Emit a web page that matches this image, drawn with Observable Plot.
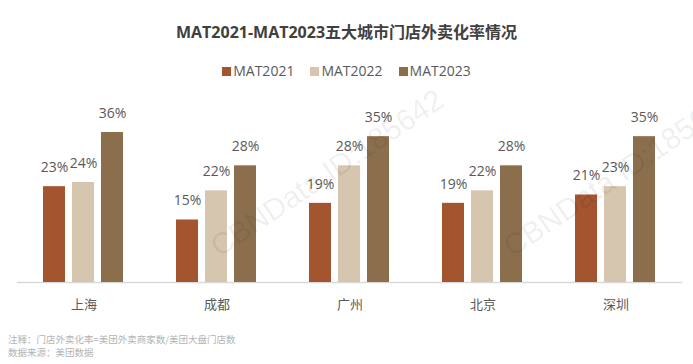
<!DOCTYPE html>
<html>
<head>
<meta charset="utf-8">
<script src="https://cdn.jsdelivr.net/npm/d3@7"></script>
<script src="https://cdn.jsdelivr.net/npm/@observablehq/plot@0.6"></script>
<style>
  html, body { margin: 0; padding: 0; background: #fff; }
  #wrap { position: relative; width: 693px; height: 364px; overflow: hidden; font-family: "Open Sans", "Noto Sans CJK SC", sans-serif; }
  #title { position: absolute; left: 0; width: 693px; top: 22px; line-height: 20px; text-align: center; font-size: 16px; font-weight: bold; color: #404040; font-family: "Open Sans", "Noto Sans CJK SC", sans-serif; }
  #legend { position: absolute; left: 0; width: 693px; top: 62px; line-height: 18px; text-align: center; font-size: 14px; color: #595959; }
  #legend span.item { display: inline-block; margin: 0 8px; }
  #legend span.sw { display: inline-block; width: 9px; height: 9px; margin-right: 2px; vertical-align: 0px; }
  #chart { position: absolute; left: 0; top: 95px; }
  #notes { position: absolute; left: 8px; top: 333px; font-size: 9.5px; line-height: 13px; color: #b3b3b3; font-family: "Noto Sans CJK SC", sans-serif; }
  .wm { position: absolute; font-family: "Liberation Sans", Arial, sans-serif; font-size: 30px; color: rgba(0,0,0,0.07); white-space: nowrap; transform-origin: 0 100%; transform: rotate(-34deg); line-height: 30px; }
</style>
</head>
<body>
<div id="wrap">
  <div id="title"></div>
  <div id="legend"></div>
  <div id="chart"></div>
  <div id="notes"></div>
</div>
<script>
const titleText = "MAT2021-MAT2023五大城市门店外卖化率情况";
const cities = ["上海", "成都", "广州", "北京", "深圳"];
const years = ["MAT2021", "MAT2022", "MAT2023"];
const v2021 = [23, 15, 19, 19, 21];
const v2022 = [24, 22, 28, 22, 23];
const v2023 = [36, 28, 35, 28, 35];
const colors = ["#A2552F", "#D6C5AF", "#8B6F4D"];
const notes = ["注释：门店外卖化率=美团外卖商家数/美团大盘门店数", "数据来源：美团数据"];
const watermark = "CBNData ID:185642";

const series = [v2021, v2022, v2023];
const data = cities.flatMap((c, i) => years.map((y, j) => ({city: c, year: y, value: series[j][i]})));

document.getElementById("title").textContent = titleText;
const legend = document.getElementById("legend");
years.forEach((y, j) => {
  const item = document.createElement("span");
  item.className = "item";
  const sw = document.createElement("span");
  sw.className = "sw";
  sw.style.background = colors[j];
  item.appendChild(sw);
  item.appendChild(document.createTextNode(y));
  legend.appendChild(item);
});
document.getElementById("notes").innerHTML = notes.map(n => `<div>${n}</div>`).join("");

const plot = Plot.plot({
  width: 693,
  height: 230,
  marginTop: 37,
  marginBottom: 43,
  marginLeft: 15,
  marginRight: 10,
  style: {fontFamily: "'Open Sans', 'Noto Sans CJK SC', sans-serif", background: "transparent"},
  fx: {domain: cities, paddingInner: 0.379, paddingOuter: 0.19, label: null},
  x: {domain: years, paddingInner: 0.233, paddingOuter: 0, axis: null},
  y: {domain: [0, 36], axis: null},
  color: {domain: years, range: colors},
  marks: [
    Plot.ruleY([0], {stroke: "#d9d9d9", strokeWidth: 1.5, insetLeft: -25.4, insetRight: -25.4}),
    Plot.barY(data, {fx: "city", x: "year", y: "value", fill: "year"}),
    Plot.text(data, {fx: "city", x: "year", y: "value", text: d => d.value + "%", dy: -19, lineAnchor: "middle", fill: "#595959", fontSize: 14}),
    Plot.axisFx({anchor: "bottom", tickSize: 0, tickPadding: 17, fontSize: 13, fill: "#595959", label: null})
  ]
});
document.getElementById("chart").appendChild(plot);

// faint watermarks
const wmPos = [[222, 262], [515, 262]];
const wrap = document.getElementById("wrap");
wmPos.forEach(([x, y]) => {
  const d = document.createElement("div");
  d.className = "wm";
  d.textContent = watermark;
  d.style.left = x + "px";
  d.style.top = (y - 30) + "px";
  wrap.appendChild(d);
});
</script>
</body>
</html>
